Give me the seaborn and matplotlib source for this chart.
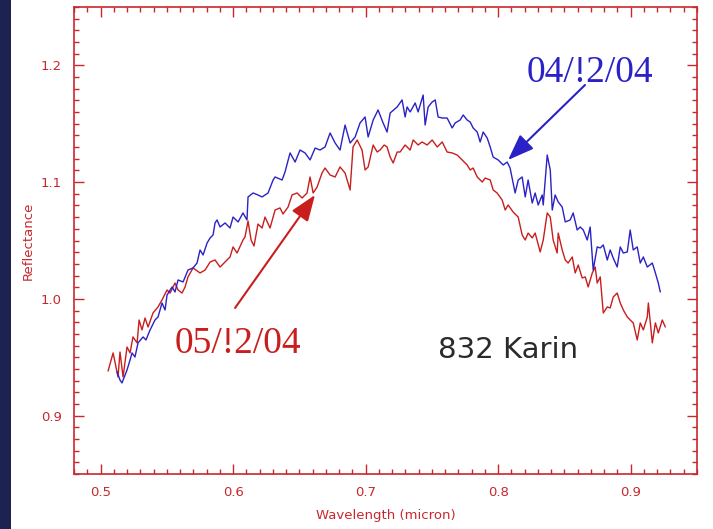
import matplotlib
matplotlib.use("Agg")
import matplotlib.pyplot as plt
from matplotlib.patches import Rectangle
from matplotlib.ticker import MultipleLocator, FormatStrFormatter
import seaborn as sns
import pandas as pd

# ---- data (wavelength in micron, reflectance) ----
wl_red = [0.5057, 0.5095, 0.5132, 0.5147, 0.5170, 0.5200, 0.5223, 0.5245, 0.5276, 0.5291,
          0.5313, 0.5336, 0.5359, 0.5396, 0.5434, 0.5464, 0.5502, 0.5525, 0.5562, 0.5585,
          0.5615, 0.5638, 0.5660, 0.5698, 0.5751, 0.5789, 0.5827, 0.5864, 0.5902, 0.5940,
          0.5977, 0.6000, 0.6030, 0.6075, 0.6090, 0.6113, 0.6136, 0.6158, 0.6188, 0.6219,
          0.6241, 0.6279, 0.6317, 0.6354, 0.6377, 0.6415, 0.6445, 0.6483, 0.6521, 0.6558,
          0.6581, 0.6604, 0.6634, 0.6671, 0.6694, 0.6732, 0.6770, 0.6807, 0.6845, 0.6883,
          0.6905, 0.6936, 0.6973, 0.6996, 0.7019, 0.7057, 0.7087, 0.7109, 0.7140, 0.7162,
          0.7185, 0.7208, 0.7238, 0.7260, 0.7298, 0.7336, 0.7359, 0.7396, 0.7426, 0.7464,
          0.7502, 0.7540, 0.7578, 0.7615, 0.7653, 0.7691, 0.7728, 0.7766, 0.7789, 0.7811,
          0.7842, 0.7880, 0.7902, 0.7940, 0.7962, 0.7992, 0.8030, 0.8053, 0.8075, 0.8113,
          0.8151, 0.8181, 0.8204, 0.8226, 0.8257, 0.8279, 0.8317, 0.8340, 0.8370, 0.8393,
          0.8415, 0.8445, 0.8453, 0.8483, 0.8506, 0.8528, 0.8559, 0.8581, 0.8604, 0.8634,
          0.8657, 0.8679, 0.8710, 0.8732, 0.8747, 0.8770, 0.8793, 0.8823, 0.8845, 0.8868,
          0.8898, 0.8921, 0.8944, 0.8974, 0.8996, 0.9019, 0.9049, 0.9072, 0.9095, 0.9125,
          0.9133, 0.9163, 0.9186, 0.9208, 0.9238, 0.9261]
refl_red = [0.9382, 0.9537, 0.9331, 0.9545, 0.9331, 0.9588, 0.9537, 0.9674, 0.9623, 0.9819,
            0.9734, 0.9836, 0.9759, 0.9879, 0.9931, 0.9991, 1.0076, 1.0050, 1.0136, 1.0076,
            1.0050, 1.0102, 1.0188, 1.0265, 1.0222, 1.0247, 1.0316, 1.0333, 1.0273, 1.0316,
            1.0359, 1.0445, 1.0393, 1.0504, 1.0530, 1.0667, 1.0504, 1.0453, 1.0641, 1.0607,
            1.0701, 1.0607, 1.0761, 1.0779, 1.0727, 1.0787, 1.0890, 1.0907, 1.0864, 1.0907,
            1.1044, 1.0907, 1.0958, 1.1078, 1.1121, 1.1061, 1.1044, 1.1130, 1.1078, 1.0933,
            1.1301, 1.1361, 1.1275, 1.1104, 1.1130, 1.1318, 1.1258, 1.1275, 1.1318, 1.1301,
            1.1215, 1.1164, 1.1258, 1.1258, 1.1318, 1.1275, 1.1361, 1.1318, 1.1344, 1.1318,
            1.1361, 1.1301, 1.1344, 1.1258, 1.1250, 1.1232, 1.1190, 1.1147, 1.1104, 1.1121,
            1.1044, 1.1001, 1.1035, 1.1018, 1.0933, 1.0907, 1.0847, 1.0761, 1.0804, 1.0744,
            1.0701, 1.0547, 1.0504, 1.0564, 1.0522, 1.0564, 1.0402, 1.0504, 1.0736, 1.0701,
            1.0504, 1.0393, 1.0564, 1.0419, 1.0333, 1.0307, 1.0359, 1.0222, 1.0290, 1.0179,
            1.0188, 1.0102, 1.0222, 1.0273, 1.0136, 1.0188, 0.9879, 0.9931, 0.9922, 1.0016,
            1.0050, 0.9965, 0.9905, 0.9845, 0.9819, 0.9794, 0.9648, 0.9794, 0.9734, 0.9845,
            0.9965, 0.9623, 0.9794, 0.9708, 0.9819, 0.9759]

wl_blue = [0.5125, 0.5147, 0.5162, 0.5185, 0.5200, 0.5223, 0.5238, 0.5260, 0.5283, 0.5321,
           0.5343, 0.5374, 0.5411, 0.5434, 0.5464, 0.5487, 0.5502, 0.5540, 0.5562, 0.5585,
           0.5623, 0.5660, 0.5698, 0.5728, 0.5751, 0.5774, 0.5804, 0.5827, 0.5849, 0.5864,
           0.5879, 0.5902, 0.5940, 0.5977, 0.6000, 0.6038, 0.6075, 0.6105, 0.6113, 0.6151,
           0.6188, 0.6219, 0.6264, 0.6302, 0.6317, 0.6370, 0.6392, 0.6430, 0.6468, 0.6505,
           0.6543, 0.6581, 0.6619, 0.6656, 0.6694, 0.6732, 0.6770, 0.6807, 0.6845, 0.6883,
           0.6921, 0.6958, 0.6996, 0.7019, 0.7057, 0.7094, 0.7132, 0.7162, 0.7185, 0.7238,
           0.7275, 0.7298, 0.7313, 0.7336, 0.7374, 0.7396, 0.7434, 0.7449, 0.7472, 0.7502,
           0.7525, 0.7547, 0.7578, 0.7615, 0.7653, 0.7676, 0.7713, 0.7736, 0.7766, 0.7789,
           0.7811, 0.7842, 0.7864, 0.7887, 0.7917, 0.7940, 0.7962, 0.8000, 0.8038, 0.8068,
           0.8090, 0.8128, 0.8151, 0.8181, 0.8204, 0.8226, 0.8257, 0.8279, 0.8302, 0.8332,
           0.8340, 0.8370, 0.8393, 0.8408, 0.8430, 0.8453, 0.8483, 0.8506, 0.8543, 0.8566,
           0.8596, 0.8619, 0.8642, 0.8672, 0.8694, 0.8717, 0.8747, 0.8770, 0.8793, 0.8823,
           0.8845, 0.8868, 0.8898, 0.8921, 0.8944, 0.8974, 0.8996, 0.9019, 0.9049, 0.9072,
           0.9095, 0.9125, 0.9163, 0.9186, 0.9208, 0.9223]
refl_blue = [0.9374, 0.9305, 0.9280, 0.9348, 0.9391, 0.9477, 0.9537, 0.9502, 0.9623, 0.9674,
             0.9648, 0.9734, 0.9819, 0.9845, 0.9965, 0.9905, 1.0033, 1.0102, 1.0059, 1.0162,
             1.0145, 1.0247, 1.0265, 1.0307, 1.0419, 1.0376, 1.0479, 1.0522, 1.0547, 1.0650,
             1.0676, 1.0616, 1.0650, 1.0607, 1.0701, 1.0659, 1.0736, 1.0676, 1.0873, 1.0907,
             1.0890, 1.0873, 1.0907, 1.1018, 1.1044, 1.1018, 1.1087, 1.1250, 1.1172, 1.1275,
             1.1250, 1.1190, 1.1292, 1.1275, 1.1301, 1.1421, 1.1335, 1.1275, 1.1489, 1.1335,
             1.1387, 1.1507, 1.1558, 1.1387, 1.1532, 1.1618, 1.1507, 1.1429, 1.1592, 1.1644,
             1.1704, 1.1558, 1.1644, 1.1601, 1.1678, 1.1601, 1.1746, 1.1489, 1.1644, 1.1686,
             1.1704, 1.1558, 1.1549, 1.1549, 1.1464, 1.1507, 1.1532, 1.1575, 1.1532, 1.1515,
             1.1464, 1.1429, 1.1344, 1.1429, 1.1378, 1.1301, 1.1215, 1.1190, 1.1147, 1.1172,
             1.1121, 1.0907, 1.1018, 1.1044, 1.0873, 1.1018, 1.0821, 1.0907, 1.0804, 1.0890,
             1.0804, 1.1232, 1.1104, 1.0761, 1.0890, 1.0830, 1.0787, 1.0659, 1.0676, 1.0736,
             1.0590, 1.0616, 1.0590, 1.0504, 1.0616, 1.0247, 1.0445, 1.0436, 1.0462, 1.0333,
             1.0419, 1.0350, 1.0273, 1.0445, 1.0393, 1.0402, 1.0590, 1.0419, 1.0445, 1.0307,
             1.0359, 1.0273, 1.0307, 1.0222, 1.0136, 1.0059]

x_ticks = [0.5, 0.6, 0.7, 0.8, 0.9]
y_ticks = [0.9, 1.0, 1.1, 1.2]
label_blue = "04/!2/04"
label_red = "05/!2/04"
object_name = "832 Karin"

# ---- styling ----
sns.set_style("white")
plt.rcParams["font.family"] = ["DejaVu Sans"]
AXC = "#c8282d"
BLUE = "#2a22c6"
RED = "#c81e1e"

fig = plt.figure(figsize=(7.13, 5.29), dpi=100)
fig.patch.set_facecolor("white")
fig.patches.append(Rectangle((0, 0), 11 / 713, 1, transform=fig.transFigure,
                             facecolor="#1c2350", edgecolor="none", zorder=-10))
ax = fig.add_axes([74 / 713, 1 - 474 / 529, 623 / 713, 467 / 529])

df_red = pd.DataFrame({"wl": wl_red, "r": refl_red})
df_blue = pd.DataFrame({"wl": wl_blue, "r": refl_blue})
sns.lineplot(data=df_red, x="wl", y="r", color=RED, linewidth=1.0, ax=ax,
             estimator=None, sort=False)
sns.lineplot(data=df_blue, x="wl", y="r", color=BLUE, linewidth=1.0, ax=ax,
             estimator=None, sort=False)

ax.set_xlim(0.48, 0.95)
ax.set_ylim(0.85, 1.25)
ax.set_xticks(x_ticks)
ax.set_yticks(y_ticks)
ax.xaxis.set_minor_locator(MultipleLocator(0.01))
ax.yaxis.set_minor_locator(MultipleLocator(0.01))
ax.xaxis.set_major_formatter(FormatStrFormatter("%.1f"))
ax.yaxis.set_major_formatter(FormatStrFormatter("%.1f"))
for s in ax.spines.values():
    s.set_color(AXC)
    s.set_linewidth(1.2)
ax.tick_params(which="both", direction="in", top=True, right=True, bottom=True,
               left=True, color=AXC, labelcolor=AXC, labelsize=9.5, width=1.0)
ax.tick_params(which="major", length=7.5, pad=9)
ax.tick_params(which="minor", length=3.8)

ax.set_xlabel("Wavelength (micron)", color=AXC, fontsize=9.5)
ax.set_ylabel("Reflectance", color=AXC, fontsize=9.5, va="center")
ax.yaxis.set_label_coords(-(74 - 28) / 623, 0.5)
ax.xaxis.set_label_coords(0.5, -(515 - 474) / 467)
ax.xaxis.label.set_va("center")

# annotations
ax.text(0.8689, 1.1858, label_blue, color=BLUE, fontsize=27,
        family="Liberation Serif", ha="center", va="baseline")
ax.annotate("", xy=(0.8075, 1.1190), xytext=(0.8655, 1.1832),
            arrowprops=dict(arrowstyle="-|>,head_length=0.8,head_width=0.3",
                            mutation_scale=20, color=BLUE, lw=1.5,
                            shrinkA=0, shrinkB=0))
ax.text(0.6034, 0.9537, label_red, color=RED, fontsize=27,
        family="Liberation Serif", ha="center", va="baseline")
ax.annotate("", xy=(0.6618, 1.0890), xytext=(0.6015, 0.9922),
            arrowprops=dict(arrowstyle="-|>,head_length=0.8,head_width=0.3",
                            mutation_scale=20, color=RED, lw=1.5,
                            shrinkA=0, shrinkB=0))
ax.text(0.8074, 0.9494, object_name, color="#2a2a2a", fontsize=21,
        ha="center", va="baseline")

fig.savefig("out.png", dpi=100, facecolor="white")
